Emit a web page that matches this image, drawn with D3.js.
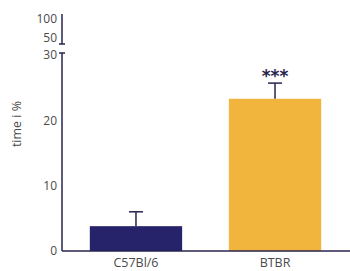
<!DOCTYPE html>
<html>
<head>
<meta charset="utf-8">
<script src="https://cdn.jsdelivr.net/npm/d3@7"></script>
<style>
  body { margin: 0; background: #fff; }
  text { font-family: "Open Sans", Lato, sans-serif; }
</style>
</head>
<body>
<script>
// data
var groups = ["C57Bl/6", "BTBR"];
var means = [3.8, 23.3];
var errors = [2.2, 2.4];
var stars = ["", "***"];
var lowerTicks = [0, 10, 20, 30];
var upperTicks = [50, 100];
var colors = ["#27236b", "#f1b43c"];

var W = 350, H = 271;
var axisCol = "#27244d", textCol = "#4a4a4a";

var svg = d3.select("body").append("svg").attr("width", W).attr("height", H);

var x = d3.scaleBand().domain(groups).range([62, 349]).paddingInner(0.336).paddingOuter(0.2);
var y = d3.scaleLinear().domain([0, 30]).range([251, 55]);
var yTop = d3.scaleLinear().domain([50, 100]).range([37.5, 19]);

// bars
svg.selectAll("rect.bar").data(groups).enter().append("rect")
  .attr("class", "bar")
  .attr("x", function (d) { return x(d); })
  .attr("width", x.bandwidth())
  .attr("y", function (d, i) { return y(means[i]); })
  .attr("height", function (d, i) { return y(0) - y(means[i]); })
  .attr("fill", function (d, i) { return colors[i]; });

// error bars (upper only)
var eb = svg.selectAll("g.err").data(groups).enter().append("g").attr("class", "err");
eb.append("line")
  .attr("x1", function (d) { return x(d) + x.bandwidth() / 2; })
  .attr("x2", function (d) { return x(d) + x.bandwidth() / 2; })
  .attr("y1", function (d, i) { return y(means[i]); })
  .attr("y2", function (d, i) { return y(means[i] + errors[i]); })
  .attr("stroke", axisCol).attr("stroke-width", 1.5);
eb.append("line")
  .attr("x1", function (d) { return x(d) + x.bandwidth() / 2 - 7; })
  .attr("x2", function (d) { return x(d) + x.bandwidth() / 2 + 7; })
  .attr("y1", function (d, i) { return y(means[i] + errors[i]); })
  .attr("y2", function (d, i) { return y(means[i] + errors[i]); })
  .attr("stroke", axisCol).attr("stroke-width", 1.5);

// significance
svg.selectAll("text.star").data(groups).enter().append("text")
  .attr("class", "star")
  .attr("x", function (d) { return x(d) + x.bandwidth() / 2; })
  .attr("y", function (d, i) { return y(means[i] + errors[i]) - 1; })
  .attr("text-anchor", "middle")
  .style("font-family", "DejaVu Sans")
  .attr("font-size", 17).attr("font-weight", "bold")
  .attr("fill", axisCol)
  .text(function (d, i) { return stars[i]; });

// x axis
svg.append("line")
  .attr("x1", 62).attr("x2", W).attr("y1", y(0)).attr("y2", y(0))
  .attr("stroke", axisCol).attr("stroke-width", 1.5);
svg.selectAll("text.xl").data(groups).enter().append("text")
  .attr("class", "xl")
  .attr("x", function (d) { return x(d) + x.bandwidth() / 2; })
  .attr("y", 267)
  .attr("text-anchor", "middle")
  .attr("font-size", 12.5).attr("fill", textCol)
  .text(function (d) { return d; });

// lower y axis
svg.append("line")
  .attr("x1", 62).attr("x2", 62).attr("y1", y(30) - 2).attr("y2", y(0))
  .attr("stroke", axisCol).attr("stroke-width", 1.5);
svg.append("line")
  .attr("x1", 59).attr("x2", 65).attr("y1", y(30) - 2).attr("y2", y(30) - 2)
  .attr("stroke", axisCol).attr("stroke-width", 1.5);
svg.selectAll("text.yl").data(lowerTicks).enter().append("text")
  .attr("class", "yl")
  .attr("x", 57).attr("y", function (d) { return y(d); })
  .attr("dy", "0.35em").attr("text-anchor", "end")
  .attr("font-size", 12).attr("fill", textCol)
  .text(function (d) { return d; });

// upper y axis segment
svg.append("line")
  .attr("x1", 62).attr("x2", 62).attr("y1", yTop(100) - 5).attr("y2", yTop(50) + 6.5)
  .attr("stroke", axisCol).attr("stroke-width", 1.5);
svg.append("line")
  .attr("x1", 59).attr("x2", 65).attr("y1", yTop(50) + 6.5).attr("y2", yTop(50) + 6.5)
  .attr("stroke", axisCol).attr("stroke-width", 1.5);
svg.selectAll("text.yt").data(upperTicks).enter().append("text")
  .attr("class", "yt")
  .attr("x", 57).attr("y", function (d) { return yTop(d); })
  .attr("dy", "0.35em").attr("text-anchor", "end")
  .attr("font-size", 12).attr("fill", textCol)
  .text(function (d) { return d; });

// y label
svg.append("text")
  .attr("transform", "translate(21," + 124 + ") rotate(-90)")
  .attr("text-anchor", "middle")
  .attr("font-size", 12.5).attr("fill", textCol)
  .text("time i %");
</script>
</body>
</html>
